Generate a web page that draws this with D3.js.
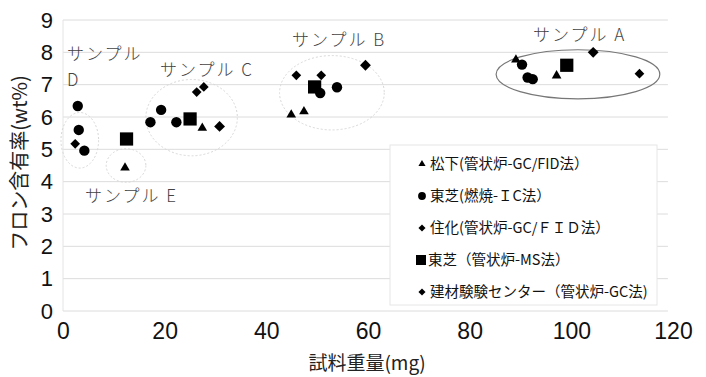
<!DOCTYPE html>
<html>
<head>
<meta charset="utf-8">
<script src="https://cdn.jsdelivr.net/npm/d3@7"></script>
<style>
  body { margin: 0; background: #fff; }
  svg { display: block; }
</style>
</head>
<body>
<div id="chart"></div>
<script>
// series values [試料重量(mg), フロン含有率(wt%)]
const matsushita = [[12.2, 4.43], [27.4, 5.66], [44.9, 6.07], [47.4, 6.17], [89.1, 7.77], [97.1, 7.28]];
const toshibaIC = [[2.9, 6.34], [3.1, 5.6], [4.2, 4.96], [17.2, 5.84], [19.3, 6.22], [22.3, 5.84],
  [50.6, 6.74], [53.9, 6.92], [90.3, 7.62], [91.4, 7.22], [92.4, 7.17]];
const sumika = [[2.4, 5.17], [26.3, 6.77], [27.7, 6.93], [45.9, 7.29], [50.8, 7.29], [113.4, 7.34]];
const toshibaMS = [[12.5, 5.32], [25, 5.94], [49.5, 6.93], [99.1, 7.6]];
const kenzai = [[30.8, 5.71], [59.5, 7.6], [104.3, 8.0]];

const legendLabels = [
  "松下(管状炉-GC/FID法）",
  "東芝(燃焼-ＩC法）",
  "住化(管状炉-GC/ＦＩＤ法）",
  "東芝（管状炉-MS法）",
  "建材験験センター（管状炉-GC法)"
];

const xTicks = [0, 20, 40, 60, 80, 100, 120];
const yTicks = [0, 1, 2, 3, 4, 5, 6, 7, 8, 9];

// sample groups: label, centre and radii in data units
const groups = [
  { name: "サンプルA", cx: 101.3, cy: 7.32, rx: 16.1, ry: 0.76 },
  { name: "サンプルB", cx: 52.9, cy: 6.75, rx: 10.3, ry: 1.15 },
  { name: "サンプルC", cx: 25.3, cy: 5.98, rx: 9.0, ry: 1.18 },
  { name: "サンプルD", cx: 3.3, cy: 5.28, rx: 3.7, ry: 0.86 },
  { name: "サンプルE", cx: 12.4, cy: 4.5, rx: 3.9, ry: 0.52 }
];

const width = 706;
const height = 377;

const svg = d3.select("#chart").append("svg")
  .attr("width", width)
  .attr("height", height);

const x = d3.scaleLinear().domain([0, 120]).range([63, 673]);
const y = d3.scaleLinear().domain([0, 9]).range([311, 20]);

// grid
svg.append("g")
  .selectAll("line")
  .data(yTicks)
  .join("line")
  .attr("x1", x(0))
  .attr("x2", x(119))
  .attr("y1", d => y(d))
  .attr("y2", d => y(d))
  .attr("stroke", "#dcdcdc")
  .attr("stroke-width", 1);

svg.append("line")
  .attr("x1", x(0)).attr("x2", x(0))
  .attr("y1", y(0)).attr("y2", y(9))
  .attr("stroke", "#e4e4e4");

// axes
const xAxis = svg.append("g")
  .attr("transform", `translate(0,${y(0)})`)
  .call(d3.axisBottom(x).tickValues(xTicks).tickSize(0).tickPadding(12));
xAxis.select(".domain").remove();
xAxis.selectAll("text")
  .style("font-family", "'Liberation Sans', Arial, sans-serif")
  .style("font-size", "23px")
  .attr("fill", "#111");

const yAxis = svg.append("g")
  .attr("transform", `translate(${x(0)},0)`)
  .call(d3.axisLeft(y).tickValues(yTicks).tickSize(0).tickPadding(10));
yAxis.select(".domain").remove();
yAxis.selectAll("text")
  .style("font-family", "'Liberation Sans', Arial, sans-serif")
  .style("font-size", "22px")
  .attr("fill", "#111");

// axis titles
svg.append("text")
  .attr("x", 367)
  .attr("y", 370)
  .attr("text-anchor", "middle")
  .style("font-family", "'Noto Sans CJK JP', sans-serif")
  .style("font-size", "19px")
  .attr("fill", "#222")
  .text("試料重量(mg)");

svg.append("text")
  .attr("transform", "rotate(-90)")
  .attr("x", -163)
  .attr("y", 27)
  .attr("text-anchor", "middle")
  .style("font-family", "'Noto Sans CJK JP', sans-serif")
  .style("font-size", "20px")
  .attr("fill", "#222")
  .text("フロン含有率(wt%)");

// group ellipses
svg.append("g")
  .selectAll("ellipse")
  .data(groups)
  .join("ellipse")
  .attr("cx", d => x(d.cx))
  .attr("cy", d => y(d.cy))
  .attr("rx", d => x(d.rx) - x(0))
  .attr("ry", d => y(0) - y(d.ry))
  .attr("fill", "none")
  .attr("stroke", d => d.name === "サンプルA" ? "#777" : "#d8d8d8")
  .attr("stroke-width", d => d.name === "サンプルA" ? 1.2 : 1)
  .attr("stroke-dasharray", d => d.name === "サンプルA" ? null : "2,2");

// group labels
const labelPos = {
  "サンプルA": [[533, 41]],
  "サンプルB": [[292, 46]],
  "サンプルC": [[160, 76]],
  "サンプルD": [[67, 60], [67, 86]],
  "サンプルE": [[85, 202]]
};
const labelFont = "'Noto Sans CJK JP', sans-serif";
groups.forEach(g => {
  const pos = labelPos[g.name];
  const parts = pos.length === 2 ? ["サンプル", g.name.slice(4)] : [g.name.slice(0, 4) + " " + g.name.slice(4)];
  parts.forEach((t, i) => {
    svg.append("text")
      .attr("x", pos[i][0])
      .attr("y", pos[i][1])
      .style("font-family", labelFont)
      .style("font-weight", 300)
      .style("font-size", "17px")
      .style("letter-spacing", "2px")
      .attr("fill", "#444")
      .text(t);
  });
});

// markers
const sym = {
  triangle: d3.symbol().type(d3.symbolTriangle).size(40),
  circle: d3.symbol().type(d3.symbolCircle).size(85),
  diamond: d3.symbol().type(d3.symbolDiamond2).size(60),
  square: d3.symbol().type(d3.symbolSquare).size(175),
  diamondBig: d3.symbol().type(d3.symbolDiamond2).size(75)
};
const series = [
  { data: matsushita, shape: sym.triangle },
  { data: toshibaIC, shape: sym.circle },
  { data: sumika, shape: sym.diamond },
  { data: toshibaMS, shape: sym.square },
  { data: kenzai, shape: sym.diamondBig }
];
series.forEach(s => {
  svg.append("g")
    .selectAll("path")
    .data(s.data)
    .join("path")
    .attr("transform", d => `translate(${x(d[0])},${y(d[1])})`)
    .attr("d", s.shape())
    .attr("fill", "#000");
});

// legend
const legend = svg.append("g");
legend.append("rect")
  .attr("x", 390)
  .attr("y", 145)
  .attr("width", 267)
  .attr("height", 160)
  .attr("fill", "#fff")
  .attr("stroke", "#e6e6e6");

const legendSyms = [
  d3.symbol().type(d3.symbolTriangle).size(22),
  d3.symbol().type(d3.symbolCircle).size(48),
  d3.symbol().type(d3.symbolDiamond2).size(32),
  d3.symbol().type(d3.symbolSquare).size(100),
  d3.symbol().type(d3.symbolDiamond2).size(32)
];
const legendSymX = [422, 422, 422, 421, 422];
const legendTextX = [430, 430, 430, 428, 430];

legend.selectAll("path")
  .data(legendLabels)
  .join("path")
  .attr("transform", (d, i) => `translate(${legendSymX[i]},${164 + i * 32})`)
  .attr("d", (d, i) => legendSyms[i]())
  .attr("fill", "#000");

legend.selectAll("text")
  .data(legendLabels)
  .join("text")
  .attr("x", (d, i) => legendTextX[i])
  .attr("y", (d, i) => 169 + i * 32)
  .style("font-family", "'Noto Sans CJK JP', sans-serif")
  .style("font-size", "14.5px")
  .attr("fill", "#111")
  .text(d => d);
</script>
</body>
</html>
